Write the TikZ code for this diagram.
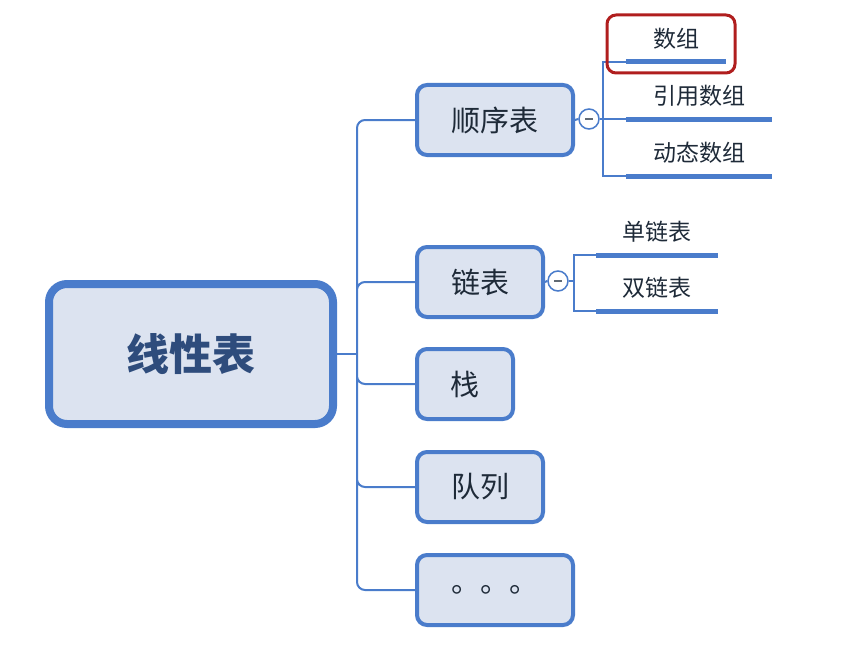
\documentclass[tikz,border=0pt]{standalone}
\usepackage{fontspec}
\setmainfont{Noto Sans CJK SC}
\usepackage{tikz}
\usepackage{xcolor}
\usetikzlibrary{shapes, positioning}

\definecolor{mapblue}{HTML}{4A7CCB}
\definecolor{mapfill}{HTML}{DCE3F0}
\definecolor{maptext}{HTML}{1E2A38}
\definecolor{roottext}{HTML}{2E4C7C}
\definecolor{markred}{HTML}{B01E1E}

\tikzset{
    rootbox/.style={rectangle, rounded corners=18, draw=mapblue, line width=8, fill=mapfill,
        minimum width=284, minimum height=140, text=roottext, font=\fontsize{43}{43}\selectfont\bfseries},
    topicbox/.style={rectangle, rounded corners=10, draw=mapblue, line width=4, fill=mapfill,
        minimum height=70, text=maptext, font=\fontsize{29}{29}\selectfont},
    leaf/.style={text=maptext, font=\fontsize{23}{23}\selectfont, inner ysep=9, text depth=5, anchor=south},
    leafline/.style={draw=mapblue, line width=5},
    link/.style={draw=mapblue, line width=2},
    fold/.style={circle, draw=mapblue, line width=1.5, fill=white, minimum size=20, inner sep=0,
        path picture={\draw[maptext!70, line width=1.2] ([xshift=-4]path picture bounding box.center) -- ([xshift=4]path picture bounding box.center);}}
}

\begin{document}
\begin{tikzpicture}[x=1pt, y=-1pt]
        \useasboundingbox (0,0) rectangle (842,658);

        \node[rootbox] (root) at (191,354) {线性表};

        \node[topicbox, minimum width=156] (seq) at (495,120) {顺序表};
        \node[topicbox, minimum width=126] (link) at (480,282) {链表};
        \node[topicbox, minimum width=96] (stack) at (465,384) {栈};
        \node[topicbox, minimum width=126] (queue) at (480,487) {队列};
        \node[topicbox, minimum width=156] (more) at (495,590) {。。。};

        \coordinate (hub) at ([xshift=20]root.east);
        \draw[link] (root.east) -- (hub);
        \draw[link, rounded corners=8] (hub) |- (seq.west)
            (hub) |- (link.west)
            (hub) |- (stack.west)
            (hub) |- (queue.west)
            (hub) |- (more.west);

        \node[fold] (f1) at (589,119) {};
        \node[fold] (f2) at (558,281) {};
        \draw[link] (seq.east) -- (f1.west)
            (link.east) -- (f2.west);

        \node[leaf, minimum width=100] (arr) at (676,62) {数组};
        \node[leaf, minimum width=146] (refarr) at (699,119) {引用数组};
        \node[leaf, minimum width=146] (dynarr) at (699,176) {动态数组};

        \draw[link] (f1.east) -- ++(3,0) |- (arr.south west)
            (f1.east) -- (refarr.south west)
            (f1.east) -- ++(3,0) |- (dynarr.south west);
        \draw[leafline] (arr.south west) -- (arr.south east)
            (refarr.south west) -- (refarr.south east)
            (dynarr.south west) -- (dynarr.south east);

        \node[leaf, minimum width=121] (single) at (657,255) {单链表};
        \node[leaf, minimum width=121] (double) at (657,311) {双链表};

        \draw[link] (f2.east) -- ++(5,0) |- (single.south west)
            (f2.east) -- ++(5,0) |- (double.south west);
        \draw[leafline] (single.south west) -- (single.south east)
            (double.south west) -- (double.south east);

        \draw[markred, line width=3, rounded corners=9] (607,15) rectangle (735,73);
    \end{tikzpicture}
\end{document}
